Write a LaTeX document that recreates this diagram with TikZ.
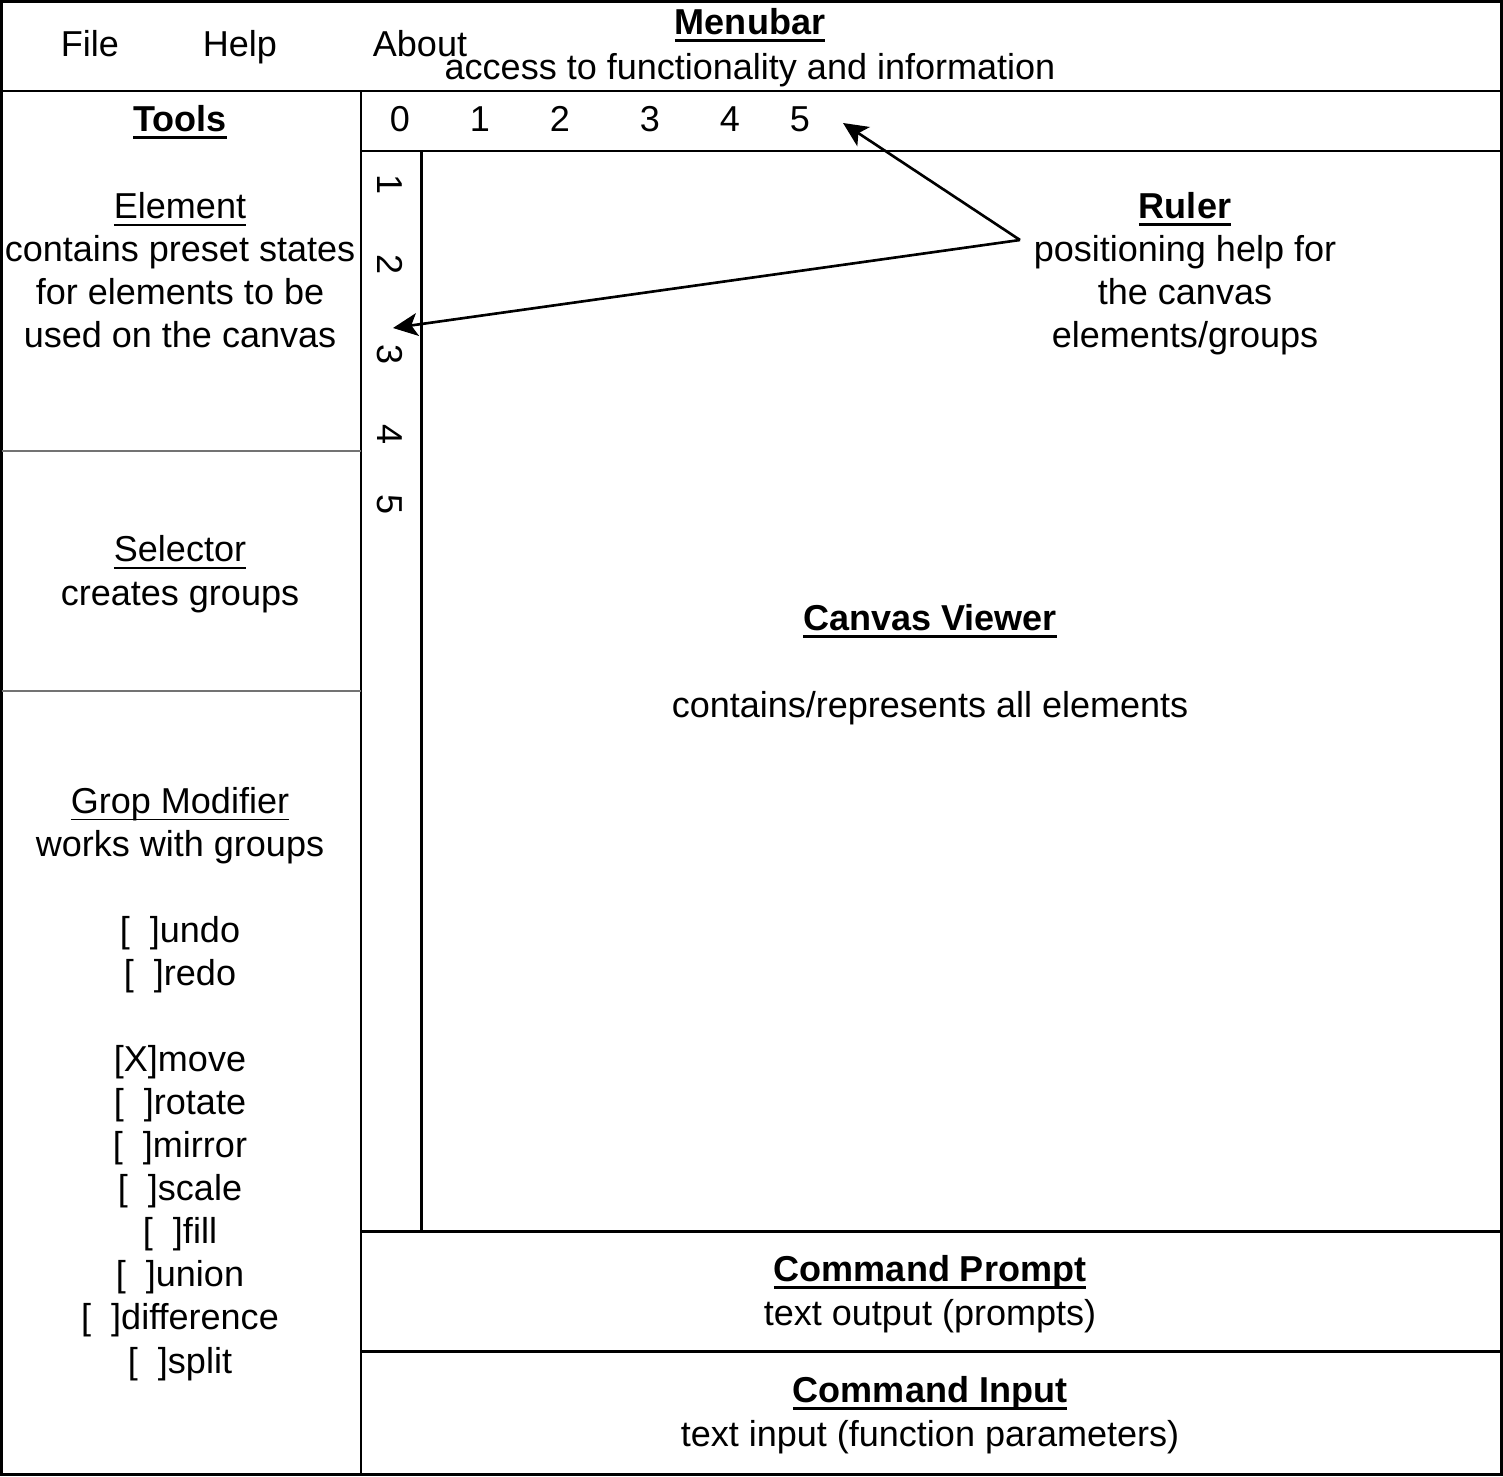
\documentclass[tikz,border=0pt]{standalone}
\usepackage{fontspec}
\setmainfont{Liberation Sans}
\usetikzlibrary{arrows.meta}
\newcommand{\hdrline}[1]{{\setbox0\hbox{\bfseries #1}\rlap{\rule[-4.2pt]{\wd0}{1.7pt}}\box0}}
\newcommand{\subline}[1]{{\setbox0\hbox{#1}\rlap{\rule[-4pt]{\wd0}{1.1pt}}\box0}}

\begin{document}
\begin{tikzpicture}[x=0.02cm,y=-0.02cm,
  every node/.style={font=\fontsize{20.5}{24.5}\selectfont, inner sep=0pt},
  frame/.style={line width=1.7pt},
  sep/.style={line width=0.6pt, draw=black!55},
  txt/.style={anchor=base, align=center},
  digit/.style={anchor=base},
  vdigit/.style={rotate=-90},
  pointer/.style={-{Stealth[length=14pt,width=13pt,inset=3.5pt]}, line width=1.5pt},
]
  \useasboundingbox (0,0) rectangle (1503,1476);

  % Frames
  \draw[frame] (1.5,1.5) rectangle (1501.5,1474.5);
  \draw[frame] (1.5,91) -- (1501.5,91);
  \draw[frame] (361,91) -- (361,1474.5);
  \draw[frame] (361,151) -- (1501.5,151);
  \draw[frame] (421,151) -- (421,1231);
  \draw[frame] (361,1231) -- (1501.5,1231);
  \draw[frame] (361,1351) -- (1501.5,1351);
  \draw[sep] (1.5,451) -- (361,451);
  \draw[sep] (1.5,691) -- (361,691);

  % Menubar
  \node[txt] (menubar)  at (750,35) {\hdrline{Menubar}};
  \node[txt] (menudesc) at (750,80) {access to functionality and information};
  \node[txt] (file)  at (90,57)  {File};
  \node[txt] (help)  at (240,57) {Help};
  \node[txt] (about) at (420,57) {About};

  % Tools (base = last line)
  \node[txt] (tools) at (180,132) {\hdrline{Tools}};
  \node[txt] (element) at (180,348)
    {\subline{Element}\\contains preset states\\for elements to be\\used on the canvas};
  \node[txt] (selector) at (180,605) {\subline{Selector}\\creates groups};
  \node[txt] (modifier) at (180,1373)
    {\subline{Grop Modifier}\\works with groups\\\mbox{}\\
     {[}\ \ {]}undo\\{[}\ \ {]}redo\\\mbox{}\\
     {[}X{]}move\\{[}\ \ {]}rotate\\{[}\ \ {]}mirror\\{[}\ \ {]}scale\\
     {[}\ \ {]}fill\\{[}\ \ {]}union\\{[}\ \ {]}difference\\{[}\ \ {]}split};

  % Rulers
  \foreach \n/\x in {0/400,1/480,2/560,3/650,4/730,5/800}
    \node[digit] (h\n) at (\x,132) {\n};
  \foreach \n/\y in {1/185,2/265,3/355,4/435,5/505}
    \node[vdigit] (v\n) at (390,\y) {\n};
  \node[txt] (ruler) at (1185,348)
    {\hdrline{Ruler}\\positioning help for\\the canvas\\elements/groups};
  \coordinate (hub)  at (1020,240);
  \coordinate (tipH) at (843,123);
  \coordinate (tipV) at (393,328);
  \draw[pointer] (hub) -- (tipH);
  \draw[pointer] (hub) -- (tipV);

  % Canvas and command line
  \node[txt] (canvas) at (930,717)
    {\hdrline{Canvas Viewer}\\\mbox{}\\contains/represents all elements};
  \node[txt] (prompt) at (930,1325) {\hdrline{Command Prompt}\\text output (prompts)};
  \node[txt] (input)  at (930,1446) {\hdrline{Command Input}\\text input (function parameters)};
\end{tikzpicture}
\end{document}
